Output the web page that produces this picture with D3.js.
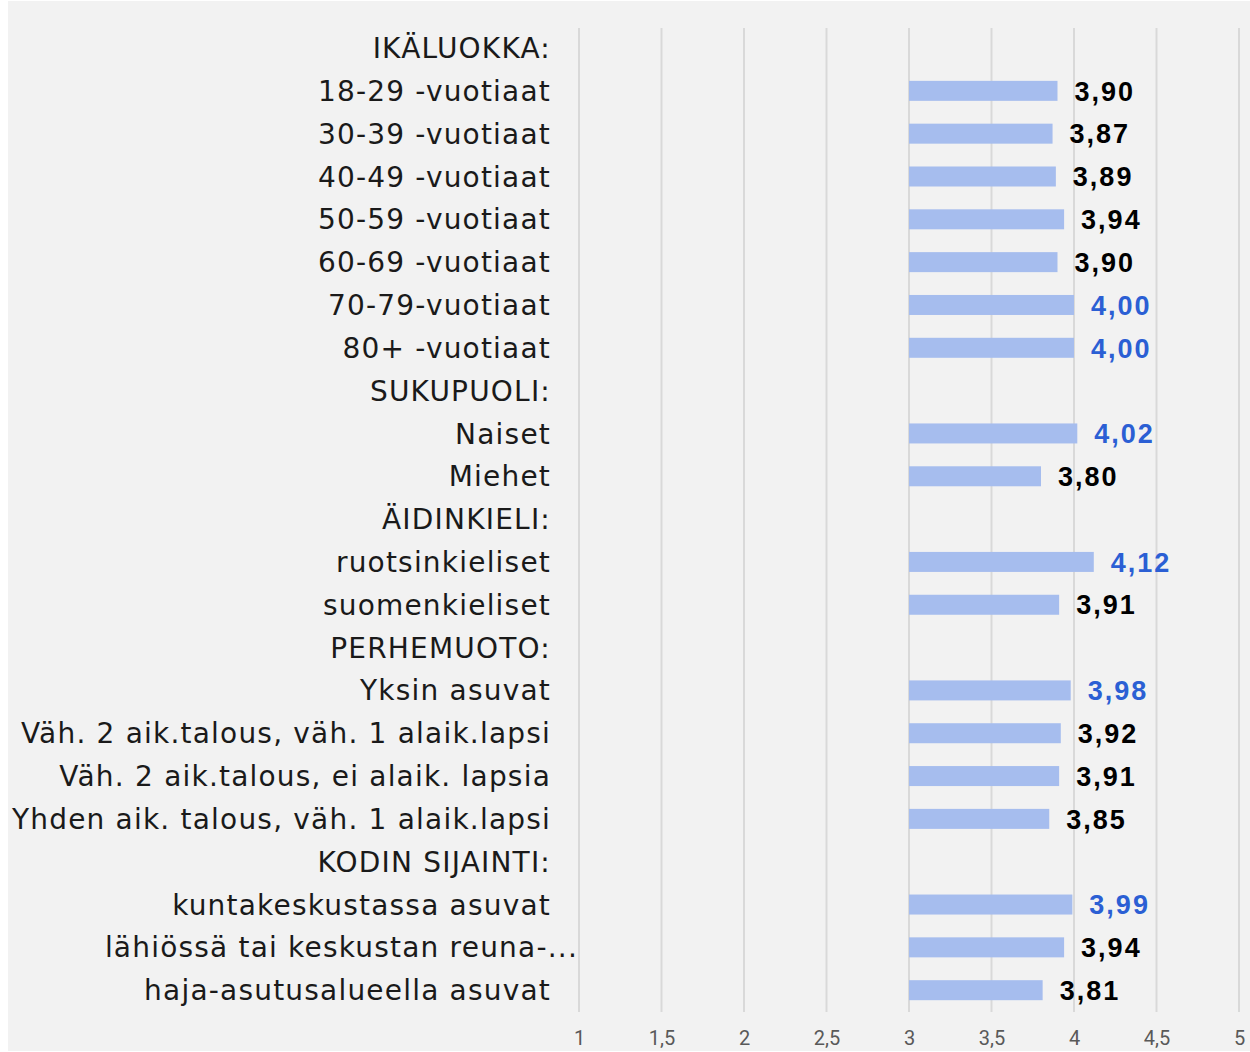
<!DOCTYPE html>
<html>
<head>
<meta charset="utf-8">
<script src="https://cdn.jsdelivr.net/npm/d3@7"></script>
<style>
  html, body { margin: 0; padding: 0; background: #ffffff; }
  svg { display: block; }
</style>
</head>
<body>
<svg id="chart" width="1250" height="1052"></svg>
<script>
const categories = [
  "IKÄLUOKKA:", "18-29 -vuotiaat", "30-39 -vuotiaat", "40-49 -vuotiaat", "50-59 -vuotiaat",
  "60-69 -vuotiaat", "70-79-vuotiaat", "80+ -vuotiaat",
  "SUKUPUOLI:", "Naiset", "Miehet",
  "ÄIDINKIELI:", "ruotsinkieliset", "suomenkieliset",
  "PERHEMUOTO:", "Yksin asuvat", "Väh. 2 aik.talous, väh. 1 alaik.lapsi",
  "Väh. 2 aik.talous, ei alaik. lapsia", "Yhden aik. talous, väh. 1 alaik.lapsi",
  "KODIN SIJAINTI:", "kuntakeskustassa asuvat", "lähiössä tai keskustan reuna-...",
  "haja-asutusalueella asuvat"
];
const values = [
  null, 3.90, 3.87, 3.89, 3.94, 3.90, 4.00, 4.00,
  null, 4.02, 3.80,
  null, 4.12, 3.91,
  null, 3.98, 3.92, 3.91, 3.85,
  null, 3.99, 3.94, 3.81
];
const highlighted = [
  false, false, false, false, false, false, true, true,
  false, true, false,
  false, true, false,
  false, true, false, false, false,
  false, true, false, false
];
const tickValues = [1, 1.5, 2, 2.5, 3, 3.5, 4, 4.5, 5];
const tickLabels = ["1", "1,5", "2", "2,5", "3", "3,5", "4", "4,5", "5"];
const barBase = 3;

const rows = categories.map((c, i) => ({ cat: c, value: values[i], hi: highlighted[i] }));

const svg = d3.select("#chart");
const W = 1250, H = 1052;

svg.append("rect").attr("x", 8).attr("y", 1).attr("width", W - 8).attr("height", H - 2)
  .attr("fill", "#f2f2f2");

const x = d3.scaleLinear().domain([1, 5]).range([579, 1239]);
const y = d3.scaleBand().domain(categories).range([26.6, 1011.6]).padding(0);

// gridlines
svg.append("g").selectAll("line").data(tickValues).join("line")
  .attr("x1", d => x(d)).attr("x2", d => x(d))
  .attr("y1", 28).attr("y2", 1012)
  .attr("stroke", "#d9d9d9").attr("stroke-width", 2);

// x axis labels
const xAxis = d3.axisBottom(x).tickValues(tickValues)
  .tickFormat((d, i) => tickLabels[i]).tickSize(0).tickPadding(0);
const gx = svg.append("g").attr("transform", "translate(0,1031)").call(xAxis);
gx.select(".domain").remove();
gx.selectAll("text")
  .attr("font-family", "Roboto, 'Liberation Sans', sans-serif")
  .attr("font-size", 20).attr("fill", "#595959");

// category labels
const barH = 20;
svg.append("g").selectAll("text").data(rows).join("text")
  .attr("x", d => d.cat.endsWith("...") ? 578 : 551)
  .attr("y", d => y(d.cat) + y.bandwidth() / 2)
  .attr("dy", "0.36em")
  .attr("text-anchor", "end")
  .attr("font-family", "'DejaVu Sans', 'Noto Sans', sans-serif")
  .attr("font-size", 28)
  .attr("letter-spacing", 1.2)
  .attr("fill", "#1a1a1a")
  .text(d => d.cat);

// bars
const data = rows.filter(d => d.value !== null);
svg.append("g").selectAll("rect").data(data).join("rect")
  .attr("x", x(barBase))
  .attr("y", d => y(d.cat) + y.bandwidth() / 2 - barH / 2)
  .attr("width", d => x(d.value) - x(barBase))
  .attr("height", barH)
  .attr("fill", "#a6bdee");

// value labels
svg.append("g").selectAll("text").data(data).join("text")
  .attr("x", d => x(d.value) + 17)
  .attr("y", d => y(d.cat) + y.bandwidth() / 2)
  .attr("dy", "0.36em")
  .attr("font-family", "'Liberation Sans', Arial, sans-serif")
  .attr("font-weight", "bold")
  .attr("font-size", 27)
  .attr("letter-spacing", 2)
  .attr("fill", d => d.hi ? "#2b5fd4" : "#000000")
  .text(d => d.value.toFixed(2).replace(".", ","));
</script>
</body>
</html>
